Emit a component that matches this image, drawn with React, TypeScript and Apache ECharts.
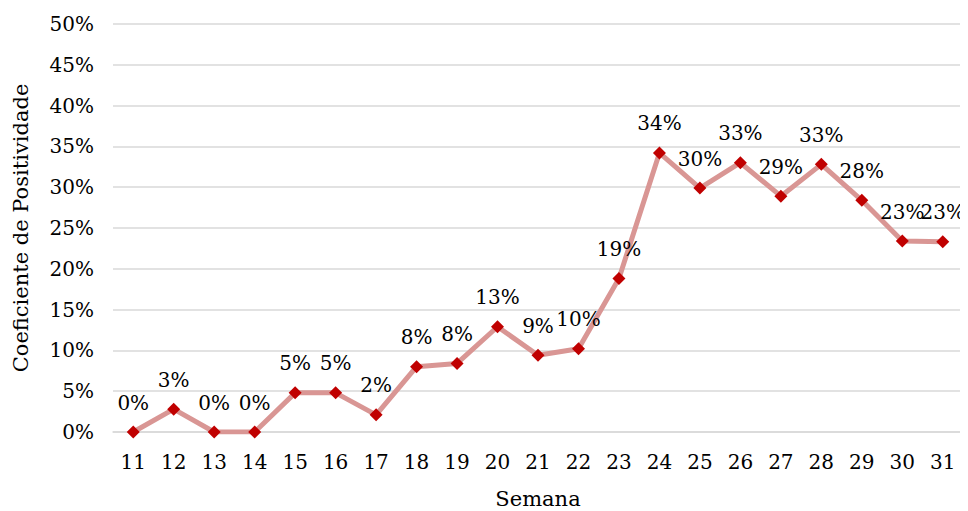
import React, { useEffect, useRef } from "react";
import * as echarts from "echarts";

const semanas = ["11","12","13","14","15","16","17","18","19","20","21","22","23","24","25","26","27","28","29","30","31"];
const positividade = [0, 2.8, 0, 0, 4.8, 4.8, 2.1, 8.0, 8.4, 12.9, 9.4, 10.2, 18.8, 34.2, 29.9, 33.0, 28.9, 32.8, 28.4, 23.4, 23.3];

const FONT = "DejaVu Serif";

export default function App() {
  const ref = useRef<HTMLDivElement>(null);
  useEffect(() => {
    const chart = echarts.init(ref.current!, null, { renderer: "svg" });
    chart.setOption({
      animation: false,
      grid: { left: 105, top: 24, width: 850, height: 408, outerBoundsMode: "none", containLabel: false },
      xAxis: {
        type: "category",
        data: semanas,
        boundaryGap: true,
        name: "Semana",
        nameLocation: "middle",
        nameGap: 56,
        nameTextStyle: { fontFamily: FONT, fontSize: 21, color: "#000" },
        axisLine: { lineStyle: { color: "#D9D9D9", width: 1.5 } },
        axisTick: { show: false },
        axisLabel: { fontFamily: FONT, fontSize: 20, color: "#000", margin: 20 },
      },
      yAxis: {
        type: "value",
        min: 0,
        max: 50,
        interval: 5,
        name: "Coeficiente de Positividade",
        nameLocation: "middle",
        nameGap: 82,
        nameTextStyle: { fontFamily: FONT, fontSize: 21, color: "#000" },
        axisLine: { show: false },
        axisTick: { show: false },
        axisLabel: { fontFamily: FONT, fontSize: 20, color: "#000", margin: 19, formatter: "{value}%" },
        splitLine: { lineStyle: { color: "#D9D9D9", width: 1.5 } },
      },
      series: [
        {
          type: "line",
          data: positividade,
          lineStyle: { color: "#D99694", width: 5 },
          symbol: "diamond",
          symbolSize: 13,
          itemStyle: { color: "#C00000" },
          label: {
            show: true,
            position: "top",
            distance: 13,
            fontFamily: FONT,
            fontSize: 20,
            color: "#000",
            formatter: (p: any) => Math.round(p.value) + "%",
          },
        },
      ],
    });
    return () => chart.dispose();
  }, []);
  return <div ref={ref} style={{ width: 960, height: 511, marginTop: -8 }} />;
}
